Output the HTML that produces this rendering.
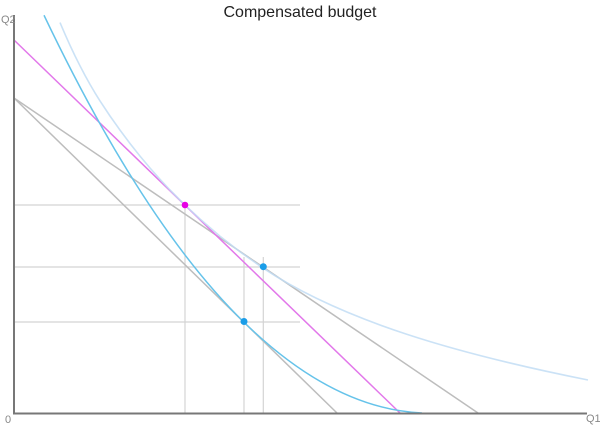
<!DOCTYPE html>
<html>
<head>
<meta charset="utf-8">
<style>
  html, body { margin: 0; padding: 0; background: #ffffff; }
  body { width: 600px; height: 429px; overflow: hidden; }
  svg { display: block; }
  text { font-family: "Liberation Sans", Arial, sans-serif; }
</style>
</head>
<body>
<svg width="600" height="429" viewBox="0 0 600 429" xmlns="http://www.w3.org/2000/svg">
  <rect x="0" y="0" width="600" height="429" fill="#ffffff"/>

  <!-- Title -->
  <text x="300" y="17" text-anchor="middle" font-size="16" fill="#222">Compensated budget</text>

  <!-- guide lines -->
  <g stroke="#d4d4d4" stroke-width="1.2" fill="none">
    <line x1="15" y1="205" x2="300" y2="205"/>
    <line x1="15" y1="267" x2="300" y2="267"/>
    <line x1="15" y1="322" x2="300" y2="322"/>
    <line x1="185" y1="205" x2="185" y2="413"/>
    <line x1="244" y1="257" x2="244" y2="413"/>
    <line x1="263.3" y1="257" x2="263.3" y2="413"/>
  </g>

  <!-- budget lines (gray) -->
  <g stroke="#bdbdbd" stroke-width="1.5" fill="none">
    <line x1="14" y1="98" x2="337" y2="413"/>
    <line x1="14" y1="98" x2="478" y2="413"/>
  </g>

  <!-- compensated budget (magenta) -->
  <line x1="14" y1="40" x2="400" y2="413" stroke="#e278ea" stroke-width="1.5"/>

  <!-- light blue indifference curve -->
  <path d="M60,22.6 L65,34.2 L70,45.3 L75,55.9 L80,65.8 L85,75.4 L90,84.4 L95,92.9 L100,100.9 L110,116 L120,130.1 L130,143.5 L140,156.1 L150,168 L160,179.3 L170,190 L185,205.1 L200,219 L220,236.2 L240,251.8 L263,268.1 C 343,321.3 458,354 588,380"
        fill="none" stroke="#c2ddf5" stroke-width="1.6" stroke-opacity="0.85" stroke-linejoin="round"/>

  <!-- dark blue indifference curve -->
  <path d="M44,15.25 Q144,224.75 244,322.25 Q333,409 422,413"
        fill="none" stroke="#66c3ea" stroke-width="1.5"/>

  <!-- axes -->
  <g stroke="#777" stroke-width="2" fill="none">
    <line x1="14" y1="15" x2="14" y2="414"/>
    <line x1="13" y1="413.5" x2="587" y2="413.5"/>
  </g>

  <!-- axis labels -->
  <text x="1" y="23" font-size="11" fill="#888">Q2</text>
  <text x="5" y="423" font-size="11" fill="#888">0</text>
  <text x="586" y="422" font-size="11" fill="#888">Q1</text>

  <!-- points -->
  <circle cx="185" cy="205" r="3.3" fill="#e600e6"/>
  <circle cx="263.3" cy="266.7" r="3.5" fill="#1a9de8"/>
  <circle cx="244" cy="321.5" r="3.5" fill="#1a9de8"/>
</svg>
</body>
</html>
